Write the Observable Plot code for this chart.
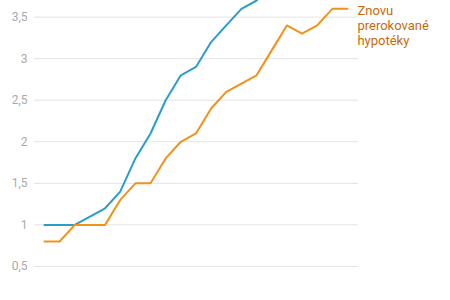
<!DOCTYPE html>
<html>
<head>
<meta charset="utf-8">
<script src="https://cdn.jsdelivr.net/npm/d3@7"></script>
<script src="https://cdn.jsdelivr.net/npm/@observablehq/plot@0.6"></script>
<style>
  html, body { margin: 0; padding: 0; background: #fff; overflow: hidden; }
  #chart svg { display: block; }
</style>
</head>
<body>
<div id="chart"></div>
<script>
const periods = [0,1,2,3,4,5,6,7,8,9,10,11,12,13,14,15,16,17,18,19,20];
const blueValues = [1.0,1.0,1.0,1.1,1.2,1.4,1.8,2.1,2.5,2.8,2.9,3.2,3.4,3.6,3.7,3.9,4.0,4.1,4.2,4.3,4.4];
const orangeValues = [0.8,0.8,1.0,1.0,1.0,1.3,1.5,1.5,1.8,2.0,2.1,2.4,2.6,2.7,2.8,3.1,3.4,3.3,3.4,3.6,3.6];
const yTicks = [0.5,1,1.5,2,2.5,3,3.5];
const orangeLabel = "Znovu\nprerokované\nhypotéky";

const blueData = periods.map((p, i) => ({p, v: blueValues[i]}));
const orangeData = periods.map((p, i) => ({p, v: orangeValues[i]}));

const chart = Plot.plot({
  width: 450,
  height: 300,
  marginLeft: 34,
  marginRight: 92,
  marginTop: 0,
  marginBottom: 0,
  style: {fontFamily: "Roboto, sans-serif", background: "#fff"},
  x: {domain: [-0.66, 20.73], axis: null},
  y: {domain: [0.09, 3.70], ticks: yTicks},
  marks: [
    Plot.ruleY(yTicks, {stroke: "#e3e3e3", strokeWidth: 1}),
    Plot.axisY({ticks: yTicks, tickSize: 0, tickPadding: 7, fontSize: 12, fill: "#aaaaaa",
      tickFormat: d => String(d).replace(".", ","), label: null}),
    Plot.line(blueData, {x: "p", y: "v", stroke: "#2a9dcb", strokeWidth: 2, clip: true}),
    Plot.line(orangeData, {x: "p", y: "v", stroke: "#f39218", strokeWidth: 2, clip: true}),
    Plot.text([orangeData[orangeData.length - 1]], {x: "p", y: "v", text: () => orangeLabel,
      textAnchor: "start", lineAnchor: "top", dx: 10, dy: -4, lineHeight: 1.15,
      fontSize: 13, fill: "#c66b0e"})
  ]
});
document.getElementById("chart").appendChild(chart);
</script>
</body>
</html>
